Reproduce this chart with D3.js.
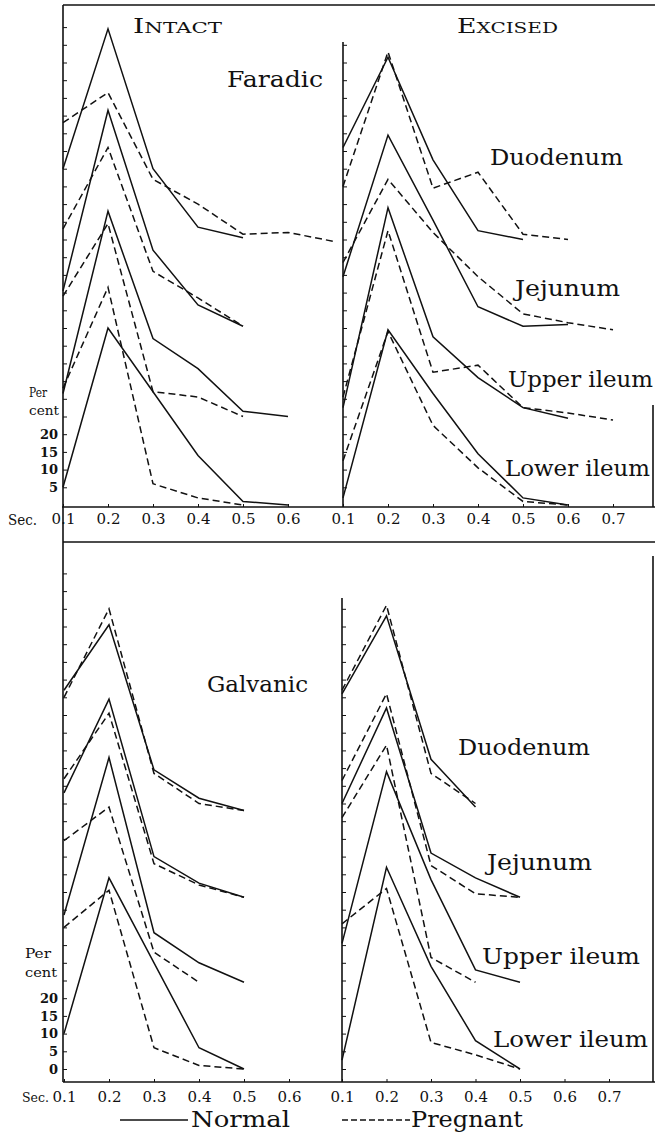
<!DOCTYPE html>
<html>
<head>
<meta charset="utf-8">
<script src="https://cdn.jsdelivr.net/npm/d3@7"></script>
<style>
  body { margin: 0; background: #fff; }
  svg { display: block; }
  .lbl { font-family: "DejaVu Serif", serif; fill: #111; }
  .tick text { font-family: "DejaVu Serif", serif; fill: #111; }
  .tick line { stroke: #111; }
</style>
</head>
<body>
<script>
const seconds = [0.1, 0.2, 0.3, 0.4, 0.5, 0.6, 0.7];
const organs = ["Duodenum", "Jejunum", "Upper ileum", "Lower ileum"];

// percent as read on the shared axis (curves are offset one above the other)
// rows: duodenum, jejunum, upper ileum, lower ileum; columns start at 0.1 sec
const faradicIntactNormal = [
  [95, 134.5, 95, 78.5, 75.5],
  [60.5, 111.5, 72, 56.5, 50.5],
  [31.5, 83, 47, 38.5, 26.5, 25],
  [5, 50, 32, 14, 1, 0]
];
const faradicIntactPregnant = [
  [108, 116.5, 92, 85, 76.5, 77, 74.5],
  [78, 101, 66, 58.5, 50.5],
  [59, 79.5, 32, 30.5, 25],
  [33, 61.5, 6, 2, 0]
];
const faradicExcisedNormal = [
  [101, 126.5, 97.5, 77.5, 75],
  [64.5, 104.5, 80.5, 56, 50.5, 51],
  [27.5, 84, 47.5, 36, 27.5, 24.5],
  [2, 49.5, 31.5, 14.5, 2, 0]
];
const faradicExcisedPregnant = [
  [90, 128, 89.5, 94, 76.5, 75],
  [68.5, 92, 77, 64.5, 54, 51.5, 49.5],
  [30.5, 77.5, 37.5, 39.5, 27.5, 26, 24],
  [12.5, 49, 22.5, 10.5, 1, 0]
];
const galvanicIntactNormal = [
  [107, 125.5, 84.5, 76.5, 73],
  [78, 104.5, 60, 52.5, 48.5],
  [43.5, 88, 38.5, 30, 24.5],
  [10, 54, 30, 6, 0]
];
const galvanicIntactPregnant = [
  [105, 130, 83.5, 75, 73],
  [82, 100.5, 58, 52, 48.5],
  [64.5, 74, 33, 24.5],
  [40, 50.5, 6, 1, 0]
];
const galvanicExcisedNormal = [
  [106, 128, 87.5, 74],
  [75, 102, 61, 54, 48.5],
  [35.5, 84, 53.5, 28, 24.5],
  [2.5, 57, 29, 8, 0]
];
const galvanicExcisedPregnant = [
  [107, 131, 83.5, 75],
  [81.5, 106, 57.5, 49.5, 48.5],
  [71, 91.5, 31.5, 24.5],
  [41, 51, 7.5, 4, 0]
];

const pxPerPct = 3.54;
const svg = d3.select("body").append("svg").attr("width", 655).attr("height", 1134);

const panels = [
  { left: 63, step: 45, zero: 505, axisX: 63, axisY: 507, ticks: [5, 135], labels: [5, 20], xTicks: 6,
    normal: faradicIntactNormal, pregnant: faradicIntactPregnant },
  { left: 343, step: 45, zero: 505, axisX: 343, axisY: 507, ticks: [5, 130], labels: null, xTicks: 7,
    normal: faradicExcisedNormal, pregnant: faradicExcisedPregnant },
  { left: 64, step: 45, zero: 1069, axisX: 63, axisY: 1082, ticks: [0, 140], labels: [0, 20], xTicks: 6,
    normal: galvanicIntactNormal, pregnant: galvanicIntactPregnant },
  { left: 342, step: 44.5, zero: 1069, axisX: 342, axisY: 1082, ticks: [0, 130], labels: null, xTicks: 7,
    normal: galvanicExcisedNormal, pregnant: galvanicExcisedPregnant }
];

// frame lines
const frame = [
  [63, 5, 655, 5], [63, 5, 63, 1082], [62, 507, 655, 507],
  [343, 42, 343, 507], [63, 542, 655, 542], [342, 598, 342, 1082],
  [63, 1082, 655, 1082], [653, 405, 653, 507], [653, 556, 653, 1082]
];
svg.selectAll("line.frame")
  .data(frame)
  .enter()
  .append("line")
  .attr("class", "frame")
  .attr("x1", d => d[0]).attr("y1", d => d[1])
  .attr("x2", d => d[2]).attr("y2", d => d[3])
  .attr("stroke", "#111")
  .attr("stroke-width", 1.6);

panels.forEach(p => {
  const x = d3.scaleLinear().domain([0.1, 0.7]).range([p.left, p.left + 6 * p.step]);
  const y = d3.scaleLinear().domain([0, 100]).range([p.zero, p.zero - 100 * pxPerPct]);
  const g = svg.append("g");

  g.append("g")
    .attr("transform", `translate(${p.axisX},0)`)
    .call(d3.axisLeft(y)
      .tickValues(d3.range(p.ticks[0], p.ticks[1] + 1, 5))
      .tickSize(-4)
      .tickPadding(5)
      .tickFormat(d => p.labels && d >= p.labels[0] && d <= p.labels[1] ? d : ""))
    .call(a => a.select(".domain").remove())
    .call(a => a.selectAll("text").attr("font-size", 13).attr("font-weight", "bold"));

  g.append("g")
    .attr("transform", `translate(0,${p.axisY})`)
    .call(d3.axisBottom(x)
      .tickValues(seconds.slice(0, p.xTicks))
      .tickSize(-3)
      .tickPadding(p.axisY > 600 ? 9 : 6)
      .tickFormat(d3.format(".1f")))
    .call(a => a.select(".domain").remove())
    .call(a => a.selectAll("text").attr("font-size", 15));

  const line = d3.line().x((d, i) => x(seconds[i])).y(d => y(d));

  g.selectAll("path.normal")
    .data(p.normal)
    .enter()
    .append("path")
    .attr("class", "normal")
    .attr("d", line)
    .attr("fill", "none")
    .attr("stroke", "#111")
    .attr("stroke-width", 1.5)
    .attr("stroke-linejoin", "miter");

  g.selectAll("path.pregnant")
    .data(p.pregnant)
    .enter()
    .append("path")
    .attr("class", "pregnant")
    .attr("d", line)
    .attr("fill", "none")
    .attr("stroke", "#111")
    .attr("stroke-width", 1.5)
    .attr("stroke-dasharray", "7,4");
});

// texts
const texts = [
  { t: "Faradic", x: 227, y: 87, s: 23, w: 96 },
  { t: "Galvanic", x: 207, y: 692, s: 23, w: 101 },
  { t: organs[0], x: 490, y: 165, s: 23, w: 133 },
  { t: organs[1], x: 515, y: 296, s: 23, w: 105 },
  { t: organs[2], x: 508, y: 387, s: 23, w: 145 },
  { t: organs[3], x: 505, y: 476, s: 23, w: 145 },
  { t: organs[0], x: 458, y: 755, s: 23, w: 132 },
  { t: organs[1], x: 487, y: 870, s: 23, w: 105 },
  { t: organs[2], x: 482, y: 964, s: 23, w: 158 },
  { t: organs[3], x: 493, y: 1047, s: 23, w: 155 },
  { t: "Per", x: 29, y: 397, s: 13, w: 18 },
  { t: "cent", x: 29, y: 415, s: 13, w: 30 },
  { t: "Per", x: 25, y: 958, s: 13, w: 26 },
  { t: "cent", x: 25, y: 977, s: 13, w: 32 },
  { t: "Sec.", x: 8, y: 525, s: 15, w: 29 },
  { t: "Sec.", x: 22, y: 1102, s: 12, w: 27 },
  { t: "Normal", x: 191, y: 1127, s: 23, w: 99 },
  { t: "Pregnant", x: 411, y: 1127, s: 23, w: 112 }
];
svg.selectAll("text.lbl")
  .data(texts)
  .enter()
  .append("text")
  .attr("class", "lbl")
  .attr("x", d => d.x).attr("y", d => d.y)
  .attr("font-size", d => d.s)
  .attr("textLength", d => d.w)
  .attr("lengthAdjust", "spacingAndGlyphs")
  .text(d => d.t);

// small-caps headings
[["INTACT", 133, 89], ["EXCISED", 457, 101]].forEach(([t, x, w]) => {
  const tx = svg.append("text").attr("class", "lbl")
    .attr("x", x).attr("y", 33)
    .attr("textLength", w).attr("lengthAdjust", "spacingAndGlyphs");
  tx.append("tspan").attr("font-size", 20).text(t[0]);
  tx.append("tspan").attr("font-size", 15).text(t.slice(1));
});

// legend
svg.append("line").attr("x1", 120).attr("x2", 188).attr("y1", 1120).attr("y2", 1120)
  .attr("stroke", "#111").attr("stroke-width", 1.5);
svg.append("line").attr("x1", 342).attr("x2", 410).attr("y1", 1120).attr("y2", 1120)
  .attr("stroke", "#111").attr("stroke-width", 1.5).attr("stroke-dasharray", "6,3");
</script>
</body>
</html>
